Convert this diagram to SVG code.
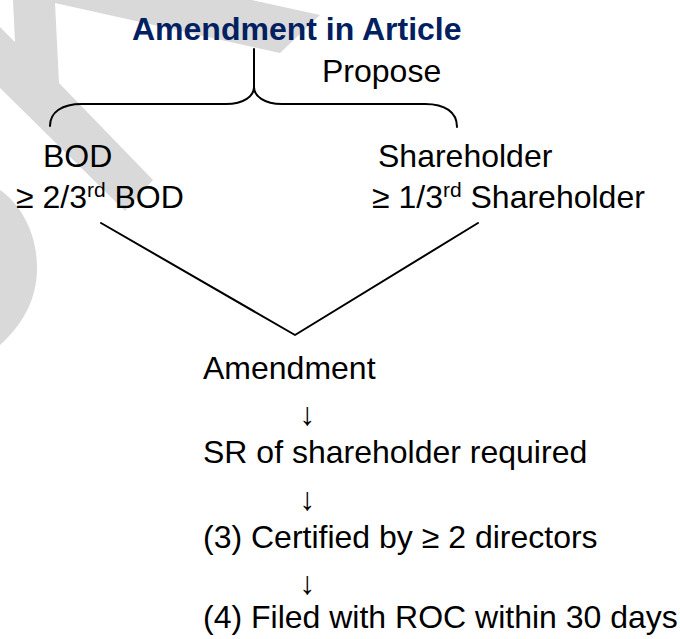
<svg xmlns="http://www.w3.org/2000/svg" width="680" height="639" viewBox="0 0 680 639">
  <style>
    .t { font-family: "Liberation Sans", Arial, sans-serif; font-size: 32px; fill: #000; }
    .arr { font-family: "Liberation Sans", Arial, sans-serif; font-size: 32px; fill: #000; }
    .title { font-family: "Liberation Sans", Arial, sans-serif; font-size: 32px; font-weight: bold; fill: #002060; }
    .ln { fill: none; stroke: #000; stroke-width: 2; stroke-linecap: round; stroke-linejoin: round; }
    .wm { fill: #d9d9d9; stroke: none; }
  </style>
  <rect width="680" height="639" fill="#fff"/>
  <g id="watermark">
    <polygon class="wm" points="13,0 252,0 320,15 280,53 55,3 59,83 153,180 125,211 0,88 0,27 15,42"/>
    <path class="wm" d="M0,190 C22,205 37,235 37,268 C37,300 22,325 0,345 Z"/>
  </g>
  <g id="connectors">
    <path class="ln" d="M254,49 L254,87"/>
    <path class="ln" d="M50,126 C50,112 62,104 82,104 L226,104 C244,104 254,96 254,87 C254,96 264,104 282,104 L425,104 C445,104 457,112 457,127"/>
    <path class="ln" d="M101,223 L295,335 L478,223" stroke-width="1.6"/>
    <text class="arr" x="307.5" y="425" text-anchor="middle">↓</text>
    <text class="arr" x="307.5" y="510" text-anchor="middle">↓</text>
    <text class="arr" x="307.5" y="594" text-anchor="middle">↓</text>
  </g>
  <g id="title">
    <text class="title" x="132" y="40">Amendment in Article</text>
  </g>
  <g id="propose">
    <text class="t" x="322" y="82">Propose</text>
  </g>
  <g id="bod">
    <text class="t" x="43" y="167">BOD</text>
    <text class="t" x="16" y="208">≥ 2/3<tspan font-size="21" dy="-11">rd</tspan><tspan dy="11"> BOD</tspan></text>
  </g>
  <g id="shareholder">
    <text class="t" x="378" y="167">Shareholder</text>
    <text class="t" x="372" y="208">≥ 1/3<tspan font-size="21" dy="-11">rd</tspan><tspan dy="11"> Shareholder</tspan></text>
  </g>
  <g id="amendment">
    <text class="t" x="203" y="379">Amendment</text>
  </g>
  <g id="sr">
    <text class="t" x="203" y="463">SR of shareholder required</text>
  </g>
  <g id="certified">
    <text class="t" x="203" y="548">(3) Certified by ≥ 2 directors</text>
  </g>
  <g id="filed">
    <text class="t" x="203" y="628">(4) Filed with ROC within 30 days</text>
  </g>
</svg>
